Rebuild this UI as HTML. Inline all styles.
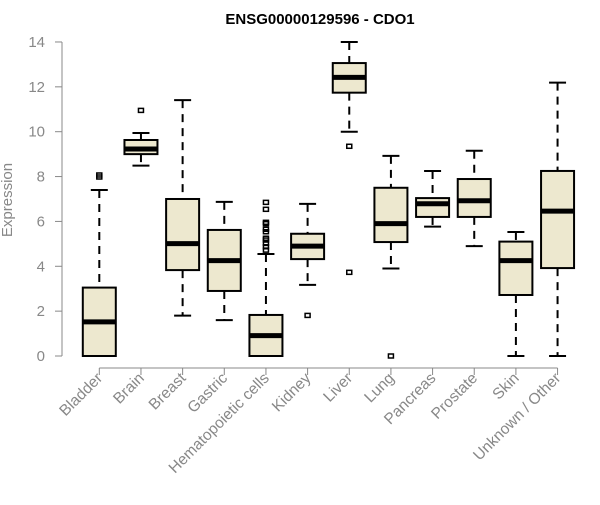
<!DOCTYPE html>
<html><head><meta charset="utf-8"><style>
body{margin:0;background:#fff;}
svg{font-family:"Liberation Sans",Arial,sans-serif;}
</style></head><body>
<svg id="chart" width="600" height="500">
<text x="320" y="24" text-anchor="middle" font-weight="bold" font-size="15" fill="#000">ENSG00000129596 - CDO1</text>
<text transform="translate(12,200) rotate(-90)" text-anchor="middle" font-size="15" fill="#888">Expression</text>
<g id="yaxis"></g>
<g id="xaxis"></g>
<g id="boxes"></g>
</svg>
<script>
const categories=["Bladder","Brain","Breast","Gastric","Hematopoietic cells","Kidney","Liver","Lung","Pancreas","Prostate","Skin","Unknown / Other"];
const whiskLow=[0,8.49,1.8,1.6,0,3.17,10.0,3.9,5.77,4.9,0,0];
const q1=[0,9.0,3.83,2.9,0,4.32,11.74,5.08,6.2,6.2,2.72,3.92];
const medians=[1.52,9.23,5.01,4.25,0.91,4.9,12.42,5.9,6.79,6.92,4.25,6.46];
const q3=[3.05,9.63,7.0,5.62,1.83,5.45,13.06,7.5,7.04,7.89,5.1,8.25];
const whiskHigh=[7.4,9.94,11.41,6.87,4.55,6.78,14.0,8.92,8.25,9.15,5.53,12.19];
const outliers=[[8.07,7.98],[10.95],[],[],[6.85,6.54,5.96,5.9,5.65,5.54,5.25,5.17,5.02,4.87,4.72],[1.81],[9.35,3.73],[0],[],[],[],[]];
const yTicks=[0,2,4,6,8,10,12,14];
const NS="http://www.w3.org/2000/svg";
const y=v=>356-v*22.43;
const x=i=>99.3+i*41.66;
function mk(tag,attrs,parent){const e=document.createElementNS(NS,tag);for(const k in attrs)e.setAttribute(k,attrs[k]);parent.appendChild(e);return e;}
const ya=document.getElementById('yaxis'),xa=document.getElementById('xaxis'),bx=document.getElementById('boxes');
let l=mk('line',{x1:62,x2:62,y1:y(0),y2:y(14),stroke:'#888','stroke-width':1},ya);


yTicks.forEach(t=>{
 let tk=mk('line',{x1:55,x2:62,y1:y(t),y2:y(t),stroke:'#888'},ya);
 
 
 let tx=mk('text',{x:45,y:y(t)+5,'text-anchor':'end','font-size':15,fill:'#888'},ya);
 tx.textContent=t;
 
 
});
let xl=mk('line',{x1:x(0),x2:x(categories.length-1),y1:368,y2:368,stroke:'#888'},xa);


categories.forEach((c,i)=>{
 const cx=x(i);
 let tk=mk('line',{x1:cx,x2:cx,y1:368,y2:375,stroke:'#888'},xa);
 
 
 let tx=mk('text',{transform:`translate(${cx+4},${379}) rotate(-45)`,'text-anchor':'end','font-size':15.5,fill:'#888'},xa);
 tx.textContent=c;
 
 
 const g=mk('g',{},bx);
 
 
 mk('line',{x1:cx,x2:cx,y1:y(whiskHigh[i]),y2:y(q3[i]),stroke:'#000','stroke-width':2,'stroke-dasharray':'8,6'},g);
 mk('line',{x1:cx,x2:cx,y1:y(q1[i]),y2:y(whiskLow[i]),stroke:'#000','stroke-width':2,'stroke-dasharray':'8,6'},g);
 mk('line',{x1:cx-8.5,x2:cx+8.5,y1:y(whiskHigh[i]),y2:y(whiskHigh[i]),stroke:'#000','stroke-width':2},g);
 mk('line',{x1:cx-8.5,x2:cx+8.5,y1:y(whiskLow[i]),y2:y(whiskLow[i]),stroke:'#000','stroke-width':2},g);
 mk('rect',{x:cx-16.5,y:y(q3[i]),width:33,height:y(q1[i])-y(q3[i]),fill:'#ede8cf',stroke:'#000','stroke-width':2},g);
 mk('line',{x1:cx-16.5,x2:cx+16.5,y1:y(medians[i]),y2:y(medians[i]),stroke:'#000','stroke-width':5},g);
 outliers[i].forEach(o=>{
  let p=mk('rect',{x:cx-2.5,y:y(o)-2,width:5,height:4,fill:'none',stroke:'#000','stroke-width':1.5},g);
  
  
 });
});
</script>
</body></html>
